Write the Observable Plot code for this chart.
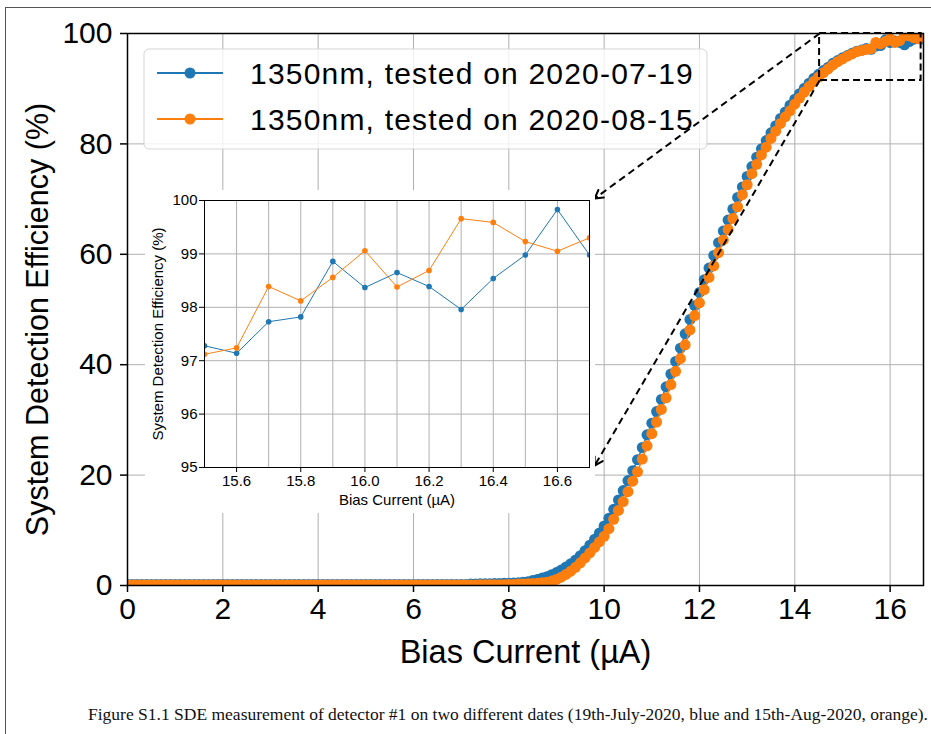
<!DOCTYPE html>
<html>
<head>
<meta charset="utf-8">
<script src="https://cdn.jsdelivr.net/npm/d3@7"></script>
<script src="https://cdn.jsdelivr.net/npm/@observablehq/plot@0.6"></script>
<style>
  body { margin: 0; background: #fff; width: 931px; height: 734px; overflow: hidden; position: relative;
         font-family: "Liberation Sans", Arial, sans-serif; }
  #page-edge { position: absolute; left: 5px; top: 7px; right: 0; bottom: 0;
               border-left: 1px solid #555; border-top: 1px solid #555; }
  #main { position: absolute; left: 0; top: 0; }
  #inset { position: absolute; left: 145px; top: 190px; background: #fff; }
  #caption { position: absolute; left: 88px; top: 704px; line-height: 20px; white-space: nowrap;
             font-family: "Liberation Serif", "Times New Roman", serif; font-size: 17.5px; color: #111; }
</style>
</head>
<body>
<div id="page-edge"></div>
<div id="main"></div>
<div id="inset"></div>
<div id="caption">Figure S1.1 SDE measurement of detector #1 on two different dates (19th-July-2020, blue and 15th-Aug-2020, orange).</div>
<script>
// Bias current sweep: 0 to 16.7 µA in 0.1 µA steps
const biasStep = 0.1;

// System detection efficiency (%), measured 2020-07-19
const sdeJuly = [
  0.2, 0.2, 0.2, 0.2, 0.2, 0.2, 0.2, 0.2, 0.2, 0.2,
  0.2, 0.2, 0.2, 0.2, 0.2, 0.2, 0.2, 0.2, 0.2, 0.2,
  0.2, 0.2, 0.2, 0.2, 0.2, 0.2, 0.2, 0.2, 0.2, 0.2,
  0.2, 0.2, 0.2, 0.2, 0.2, 0.2, 0.2, 0.2, 0.2, 0.2,
  0.2, 0.2, 0.2, 0.2, 0.2, 0.2, 0.2, 0.2, 0.2, 0.2,
  0.2, 0.2, 0.2, 0.2, 0.2, 0.2, 0.2, 0.2, 0.2, 0.2,
  0.2, 0.2, 0.2, 0.2, 0.2, 0.2, 0.2, 0.2, 0.2, 0.2,
  0.2, 0.2, 0.25, 0.25, 0.3, 0.3, 0.3, 0.35, 0.35, 0.4,
  0.4, 0.45, 0.5, 0.6, 0.7, 0.9, 1.1, 1.35, 1.6, 1.95,
  2.35, 2.8, 3.35, 3.95, 4.6, 5.4, 6.3, 7.3, 8.4, 9.5,
  10.8, 12.2, 13.8, 15.5, 17.2, 19.0, 20.8, 22.8, 25.0, 27.3,
  29.4, 31.5, 33.7, 36.0, 38.3, 40.6, 43.0, 45.6, 48.2, 50.7,
  53.1, 55.4, 57.5, 59.8, 62.1, 64.2, 66.2, 68.2, 70.3, 72.2,
  74.1, 75.9, 77.6, 79.1, 80.6, 82.0, 83.3, 84.6, 85.8, 87.0,
  88.1, 89.1, 90.1, 91.0, 91.9, 92.6, 93.3, 93.9, 94.6, 95.1,
  95.6, 96.0, 96.4, 96.8, 97.0, 97.28, 97.14, 97.73, 97.82, 98.86,
  98.37, 98.65, 98.39, 97.96, 98.54, 98.98, 99.83, 98.98
];

// System detection efficiency (%), measured 2020-08-15
const sdeAugust = [
  0.1, 0.1, 0.1, 0.1, 0.1, 0.1, 0.1, 0.1, 0.1, 0.1,
  0.1, 0.1, 0.1, 0.1, 0.1, 0.1, 0.1, 0.1, 0.1, 0.1,
  0.1, 0.1, 0.1, 0.1, 0.1, 0.1, 0.1, 0.1, 0.1, 0.1,
  0.1, 0.1, 0.1, 0.1, 0.1, 0.1, 0.1, 0.1, 0.1, 0.1,
  0.1, 0.1, 0.1, 0.1, 0.1, 0.1, 0.1, 0.1, 0.1, 0.1,
  0.1, 0.1, 0.1, 0.1, 0.1, 0.1, 0.1, 0.1, 0.1, 0.1,
  0.1, 0.1, 0.1, 0.1, 0.1, 0.1, 0.1, 0.1, 0.1, 0.1,
  0.1, 0.1, 0.1, 0.1, 0.12, 0.12, 0.15, 0.15, 0.15, 0.15,
  0.2, 0.2, 0.25, 0.25, 0.3, 0.35, 0.4, 0.5, 0.6, 0.8,
  1.1, 1.5, 2.0, 2.6, 3.3, 4.1, 5.0, 5.9, 6.9, 7.9,
  8.9, 10.3, 12.0, 13.6, 15.2, 17.0, 18.9, 20.6, 22.9, 25.3,
  27.5, 29.6, 31.9, 34.0, 36.4, 38.8, 41.1, 43.6, 46.3, 48.9,
  51.2, 53.6, 55.8, 57.9, 60.3, 62.6, 64.5, 66.5, 68.6, 70.8,
  72.6, 74.6, 76.3, 78.0, 79.4, 81.0, 82.3, 83.7, 84.9, 86.0,
  87.2, 88.3, 89.4, 90.4, 91.3, 92.1, 92.9, 93.6, 94.3, 94.9,
  95.4, 95.9, 96.3, 96.7, 96.9, 97.12, 97.24, 98.39, 98.12, 98.56,
  99.06, 98.38, 98.69, 99.66, 99.59, 99.23, 99.05, 99.30
];

const seriesNames = ["1350nm, tested on 2020-07-19", "1350nm, tested on 2020-08-15"];
const seriesColors = ["#1f77b4", "#ff7f0e"];

// Axis ticks
const mainXTicks = [0, 2, 4, 6, 8, 10, 12, 14, 16];
const mainYTicks = [0, 20, 40, 60, 80, 100];
const insetXTicks = [15.6, 15.8, 16.0, 16.2, 16.4, 16.6];
const insetXGrid = [15.6, 15.7, 15.8, 15.9, 16.0, 16.1, 16.2, 16.3, 16.4, 16.5, 16.6];
const insetYTicks = [95, 96, 97, 98, 99, 100];

// Zoomed region and the arrows pointing to the inset
const zoomBox = [{x1: 14.52, x2: 16.65, y1: 91.5, y2: 100}];
const zoomArrows = [
  {x1: 14.52, y1: 100, x2: 9.8, y2: 70.1},
  {x1: 14.52, y1: 91.5, x2: 9.8, y2: 21.7}
];

const series = [sdeJuly, sdeAugust].map((values, k) =>
  values.map((sde, i) => ({bias: +(i * biasStep).toFixed(1), sde, name: seriesNames[k]}))
);

const font = '"Liberation Sans", Arial, sans-serif';

// Main frame geometry
const W = 931, H = 690, mL = 127, mR = 8, mT = 33, mB = 105;
const xDomain = [0, 16.7], yDomain = [0, 100];
// pixel length of each arrow, so that only its tip is drawn solid over the dashed shaft
const px = d3.scaleLinear(xDomain, [mL, W - mR]);
const py = d3.scaleLinear(yDomain, [H - mB, mT]);
const arrowHeads = zoomArrows.map(d => {
  const len = Math.hypot(px(d.x1) - px(d.x2), py(d.y1) - py(d.y2));
  return Plot.arrow([d], {x1: "x1", y1: "y1", x2: "x2", y2: "y2", stroke: "#000", strokeWidth: 2,
                          headLength: 7, insetStart: len - 3});
});

// Main chart
const main = Plot.plot({
  width: W,
  height: H,
  marginLeft: mL,
  marginRight: mR,
  marginTop: mT,
  marginBottom: mB,
  style: {fontFamily: font, fontSize: "30px", background: "transparent", color: "#000"},
  x: {domain: xDomain},
  y: {domain: yDomain},
  marks: [
    Plot.gridX(mainXTicks, {stroke: "#b0b0b0", strokeOpacity: 1, strokeWidth: 1}),
    Plot.gridY(mainYTicks, {stroke: "#b0b0b0", strokeOpacity: 1, strokeWidth: 1}),
    ...series.flatMap((rows, k) => [
      Plot.line(rows, {x: "bias", y: "sde", stroke: seriesColors[k], strokeWidth: 1.5, clip: true}),
      Plot.dot(rows, {x: "bias", y: "sde", r: 5.5, fill: seriesColors[k], stroke: "none", clip: true})
    ]),
    Plot.rect(zoomBox, {x1: "x1", x2: "x2", y1: "y1", y2: "y2", fill: "none", stroke: "#000",
                        strokeWidth: 2, strokeDasharray: "7,4"}),
    Plot.frame({stroke: "#000", strokeWidth: 1.5}),
    Plot.axisX(mainXTicks, {tickSize: 7, tickPadding: 5, strokeWidth: 1.5, label: null, fontSize: 30}),
    Plot.axisY(mainYTicks, {tickSize: 7, tickPadding: 8, strokeWidth: 1.5, label: null, fontSize: 30}),
    Plot.text(["Bias Current (µA)"], {frameAnchor: "bottom", dy: 67, textAnchor: "middle",
                                        lineAnchor: "middle", fontSize: 32.5}),
    Plot.text(["System Detection Efficiency (%)"], {frameAnchor: "left", dx: -89, dy: 10, rotate: -90,
                                        textAnchor: "middle", lineAnchor: "middle", fontSize: 30.5}),
    // dashed shafts, then solid heads at the inset end
    Plot.link(zoomArrows, {x1: "x1", y1: "y1", x2: "x2", y2: "y2", stroke: "#000",
                           strokeWidth: 2, strokeDasharray: "7,4.5"}),
    ...arrowHeads
  ]
});

// Legend box inside the axes, drawn beneath the arrows
{
  const g = d3.create("svg:g").attr("font-family", font).attr("font-size", 30)
    .attr("letter-spacing", "1.2px").attr("text-anchor", "start");
  g.append("rect").attr("x", 144).attr("y", 49).attr("width", 563).attr("height", 100).attr("rx", 5)
    .attr("fill", "#fff").attr("fill-opacity", 0.8).attr("stroke", "#ccc").attr("stroke-opacity", 0.8);
  seriesNames.forEach((name, k) => {
    const cy = 73 + k * 46;
    g.append("line").attr("x1", 157).attr("x2", 223).attr("y1", cy).attr("y2", cy)
      .attr("stroke", seriesColors[k]).attr("stroke-width", 2);
    g.append("circle").attr("cx", 190).attr("cy", cy).attr("r", 5.5).attr("fill", seriesColors[k]);
    g.append("text").attr("x", 250).attr("y", cy).attr("dy", "0.35em").attr("fill", "#000").text(name);
  });
  const before = main.querySelector('g[aria-label="link"]');
  main.insertBefore(g.node(), before);
}
document.getElementById("main").appendChild(main);

// Inset: the plateau region
const insetRows = series.map(rows => rows.filter(d => d.bias >= 15.5));
const inset = Plot.plot({
  width: 450,
  height: 323,
  marginLeft: 59,
  marginRight: 6,
  marginTop: 10,
  marginBottom: 46,
  style: {fontFamily: font, fontSize: "15px", background: "#fff", color: "#000"},
  x: {domain: [15.5, 16.7]},
  y: {domain: [95, 100]},
  marks: [
    Plot.gridX(insetXGrid, {stroke: "#b0b0b0", strokeOpacity: 1, strokeWidth: 1}),
    Plot.gridY(insetYTicks, {stroke: "#b0b0b0", strokeOpacity: 1, strokeWidth: 1}),
    ...insetRows.flatMap((rows, k) => [
      Plot.line(rows, {x: "bias", y: "sde", stroke: seriesColors[k], strokeWidth: 1, clip: true}),
      Plot.dot(rows, {x: "bias", y: "sde", r: 2.8, fill: seriesColors[k], stroke: "none", clip: true})
    ]),
    Plot.frame({stroke: "#000", strokeWidth: 1}),
    Plot.axisX(insetXTicks, {tickSize: 5, tickPadding: 3, label: null, fontSize: 15,
                             tickFormat: d => d.toFixed(1)}),
    Plot.axisY(insetYTicks, {tickSize: 5, tickPadding: 2, label: null, fontSize: 15,
                             tickFormat: d => String(d)}),
    Plot.text(["Bias Current (µA)"], {frameAnchor: "bottom", dy: 33, textAnchor: "middle",
                                        lineAnchor: "middle", fontSize: 15}),
    Plot.text(["System Detection Efficiency (%)"], {frameAnchor: "left", dx: -46, rotate: -90,
                                        textAnchor: "middle", lineAnchor: "middle", fontSize: 15})
  ]
});
document.getElementById("inset").appendChild(inset);
</script>
</body>
</html>
